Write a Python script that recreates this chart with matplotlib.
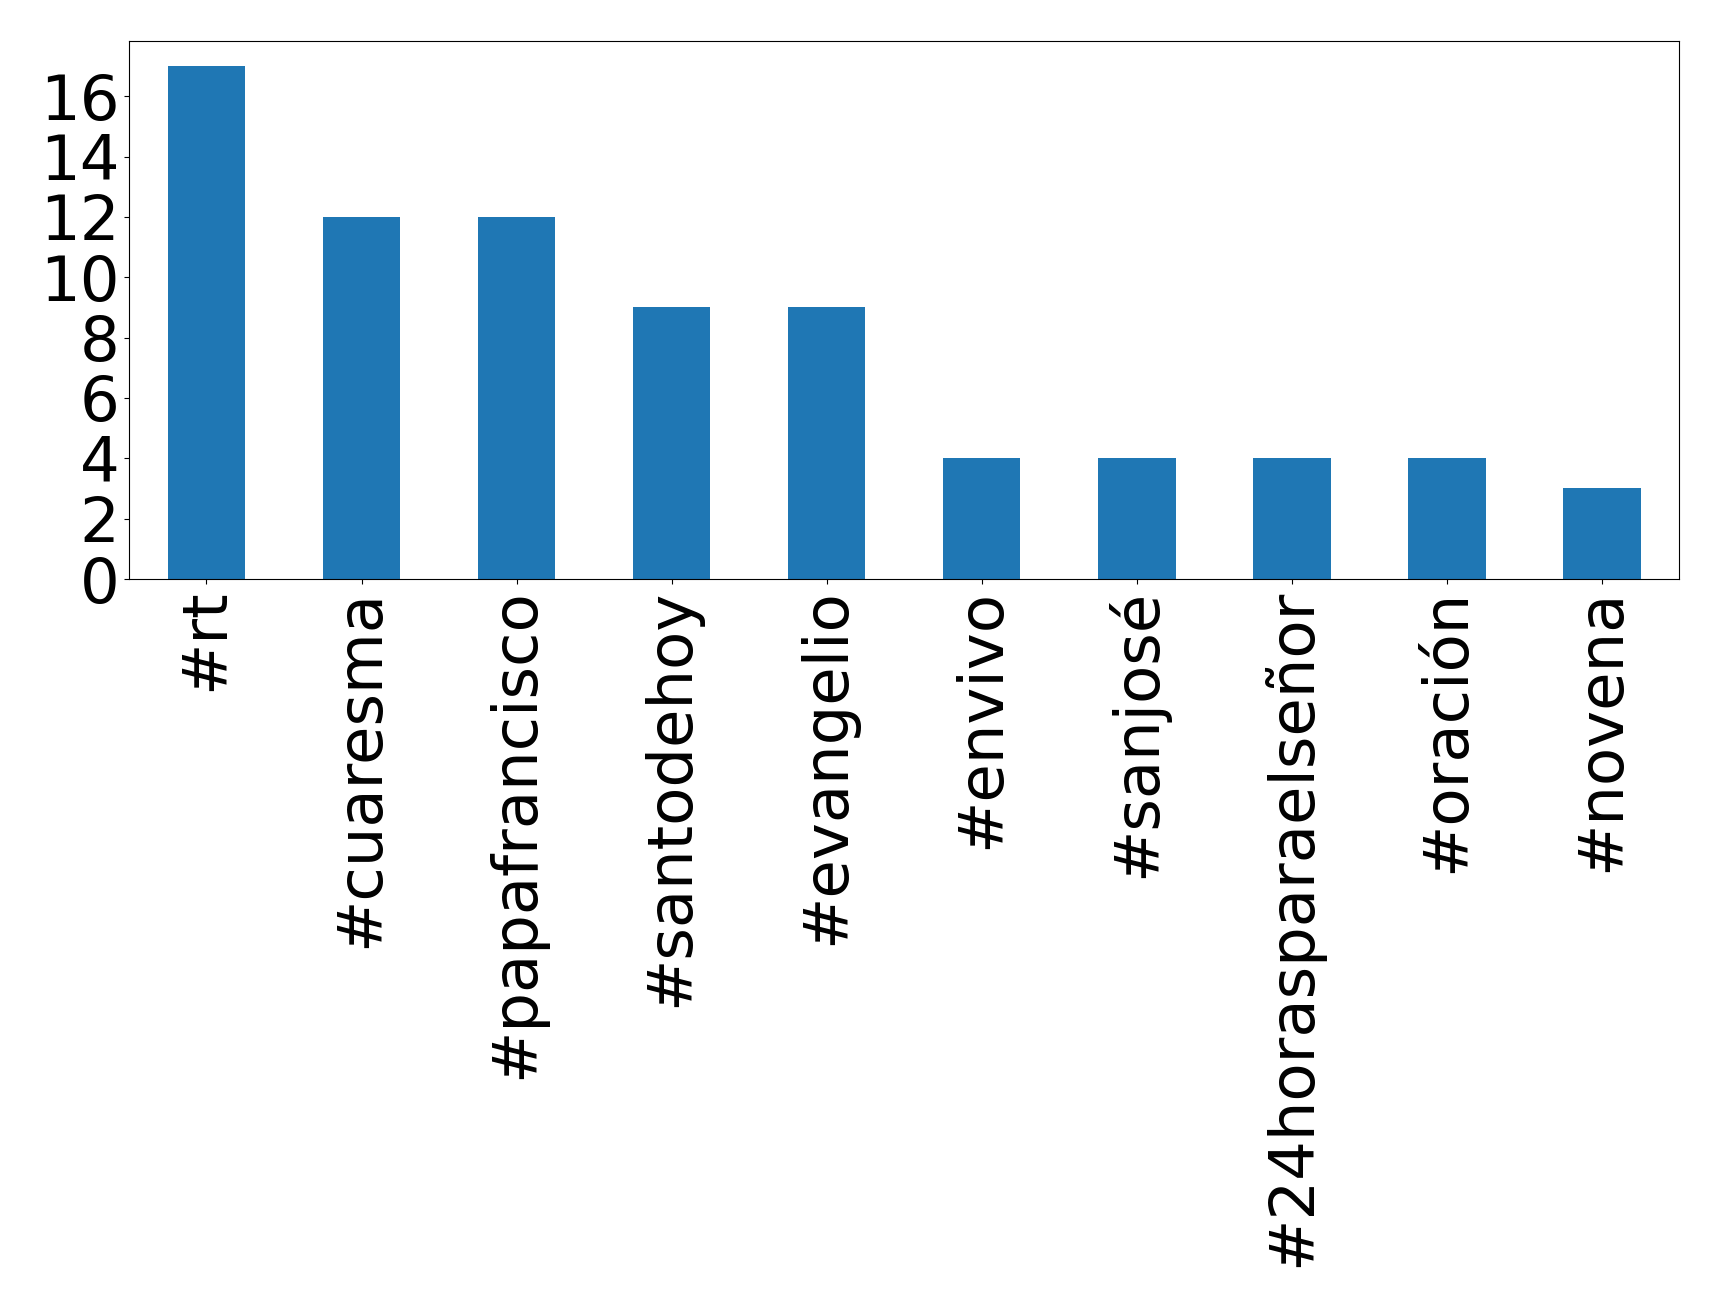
import matplotlib
matplotlib.use("Agg")
import matplotlib.pyplot as plt
import pandas as pd

# top hashtags count
hashtags = ["#rt", "#cuaresma", "#papafrancisco", "#santodehoy", "#evangelio",
            "#envivo", "#sanjosé", "#24horasparaelseñor", "#oración", "#novena"]
counts = [17, 12, 12, 9, 9, 4, 4, 4, 4, 3]

s = pd.Series(counts, index=hashtags)

fig = plt.figure(figsize=(17.19, 13.07), dpi=100)
ax = fig.add_axes([0.075, 0.557, 0.902, 0.412])
s.plot(kind="bar", ax=ax, color="#1f77b4", fontsize=45)
ax.set_yticks(range(0, 17, 2))

plt.savefig("out.png", dpi=100)
